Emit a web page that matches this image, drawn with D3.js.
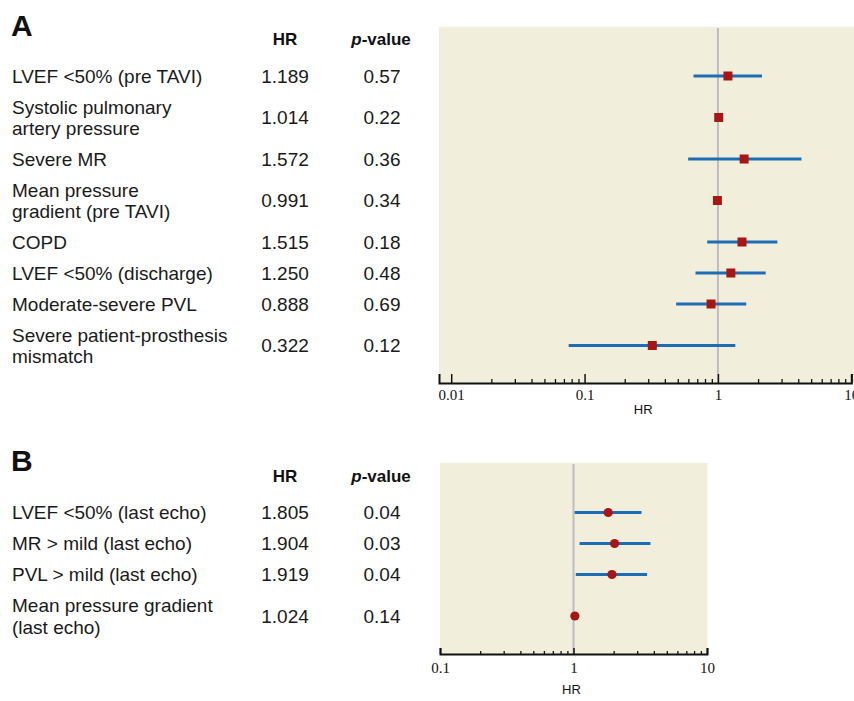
<!DOCTYPE html>
<html><head><meta charset="utf-8">
<script src="https://cdn.jsdelivr.net/npm/d3@7/dist/d3.min.js"></script>
<style>
body{margin:0;background:#fff;}
svg{display:block;}
</style></head>
<body>
<svg id="c" width="854" height="701"></svg>
<script>
// ---------- Panel A data ----------
const labelsA = [
  ["LVEF <50% (pre TAVI)"],
  ["Systolic pulmonary", "artery pressure"],
  ["Severe MR"],
  ["Mean pressure", "gradient (pre TAVI)"],
  ["COPD"],
  ["LVEF <50% (discharge)"],
  ["Moderate-severe PVL"],
  ["Severe patient-prosthesis", "mismatch"]
];
const hrTextA = ["1.189", "1.014", "1.572", "0.991", "1.515", "1.250", "0.888", "0.322"];
const pTextA  = ["0.57", "0.22", "0.36", "0.34", "0.18", "0.48", "0.69", "0.12"];
const hrA = [1.189, 1.014, 1.572, 0.991, 1.515, 1.250, 0.888, 0.322];
const loA = [0.656, 1.005, 0.598, 0.982, 0.831, 0.679, 0.486, 0.076];
const hiA = [2.14, 1.023, 4.23, 1.000, 2.79, 2.28, 1.63, 1.35];
const majorTicksA = [0.01, 0.1, 1, 10];
const tickLabelsA = ["0.01", "0.1", "1", "10"];

// ---------- Panel B data ----------
const labelsB = [
  ["LVEF <50% (last echo)"],
  ["MR > mild (last echo)"],
  ["PVL > mild (last echo)"],
  ["Mean pressure gradient", "(last echo)"]
];
const hrTextB = ["1.805", "1.904", "1.919", "1.024"];
const pTextB  = ["0.04", "0.03", "0.04", "0.14"];
const hrB = [1.82, 2.03, 1.94, 1.024];
const loB = [1.02, 1.11, 1.04, 1.015];
const hiB = [3.23, 3.77, 3.56, 1.033];
const majorTicksB = [0.1, 1, 10];
const tickLabelsB = ["0.1", "1", "10"];

const minorTicks = [0.02,0.03,0.04,0.05,0.06,0.07,0.08,0.09,
                    0.2,0.3,0.4,0.5,0.6,0.7,0.8,0.9,
                    2,3,4,5,6,7,8,9];

// ---------- styles ----------
const SANS = "'Liberation Sans', Arial, sans-serif";
const SERIF = "'Liberation Serif', 'DejaVu Serif', serif";
const BG = "#f2eedc";
const BLUE = "#1c6db3";
const RED = "#a81515";
const GREY = "#bdbdbd";

const svg = d3.select("#c");

function rowCenters(labels, startTop) {
  const h = labels.map(l => 31 + (l.length - 1) * 21);
  const out = [];
  let y = startTop;
  h.forEach(v => { out.push(y + v / 2); y += v; });
  return out;
}

function panel(opt) {
  const g = svg.append("g");
  const x = d3.scaleLog().domain(opt.domain).range(opt.range);
  const ys = rowCenters(opt.labels, opt.rowTop);

  // panel letter
  g.append("text").attr("x", 11).attr("y", opt.letterY)
    .attr("font-family", SANS).attr("font-weight", "bold")
    .attr("font-size", 30).attr("fill", "#111").text(opt.letter);

  // headers
  g.append("text").attr("x", 285).attr("y", opt.headY).attr("text-anchor", "middle")
    .attr("font-family", SANS).attr("font-weight", "bold").attr("font-size", 17)
    .attr("fill", "#111").text("HR");
  const pv = g.append("text").attr("x", 381).attr("y", opt.headY).attr("text-anchor", "middle")
    .attr("font-family", SANS).attr("font-weight", "bold").attr("font-size", 17).attr("fill", "#111");
  pv.append("tspan").attr("font-style", "italic").text("p");
  pv.append("tspan").text("-value");

  // row labels
  opt.labels.forEach((lines, i) => {
    const n = lines.length;
    lines.forEach((t, j) => {
      g.append("text").attr("x", 12)
        .attr("y", ys[i] + (j - (n - 1) / 2) * 21.5)
        .attr("dy", "0.36em")
        .attr("font-family", SANS).attr("font-size", 19).attr("fill", "#1a1a1a")
        .text(t);
    });
    g.append("text").attr("x", 285).attr("y", ys[i]).attr("dy", "0.36em")
      .attr("text-anchor", "middle").attr("font-family", SANS).attr("font-size", 19)
      .attr("fill", "#1a1a1a").text(opt.hrText[i]);
    g.append("text").attr("x", 382).attr("y", ys[i]).attr("dy", "0.36em")
      .attr("text-anchor", "middle").attr("font-family", SANS).attr("font-size", 19)
      .attr("fill", "#1a1a1a").text(opt.pText[i]);
  });

  // background
  g.append("rect").attr("x", opt.range[0]).attr("y", opt.top)
    .attr("width", opt.bgRight - opt.range[0]).attr("height", opt.axisY - opt.top)
    .attr("fill", BG);

  // reference line at 1
  g.append("line").attr("x1", x(1)).attr("x2", x(1))
    .attr("y1", opt.top + 1).attr("y2", opt.axisY)
    .attr("stroke", GREY).attr("stroke-width", 2);

  // minor ticks
  const minor = minorTicks.filter(v => v > opt.domain[0] && v < opt.domain[1]);
  g.append("g").attr("transform", `translate(0,${opt.axisY})`)
    .call(d3.axisBottom(x).tickValues(minor).tickFormat("").tickSizeInner(-opt.minorLen).tickSizeOuter(0))
    .call(a => a.select(".domain").remove())
    .call(a => a.selectAll(".tick line").attr("stroke", "#111").attr("stroke-width", 1.3));

  // major axis
  const ax = g.append("g").attr("transform", `translate(0,${opt.axisY})`)
    .call(d3.axisBottom(x).tickValues(opt.majorTicks)
      .tickFormat((d, i) => opt.tickLabels[i])
      .tickSizeInner(-opt.majorLen).tickSizeOuter(-opt.majorLen).tickPadding(opt.tickPad));
  ax.select(".domain").attr("stroke", "#111").attr("stroke-width", 2);
  ax.selectAll(".tick line").attr("stroke", "#111").attr("stroke-width", 1.5);
  ax.selectAll(".tick text").attr("font-family", SERIF).attr("font-size", 15).attr("fill", "#111");

  g.append("text").attr("x", (opt.range[0] + opt.range[1]) / 2 - 2).attr("y", opt.axisY + opt.hrLabelOff)
    .attr("text-anchor", "middle").attr("font-family", SANS).attr("font-size", 13)
    .attr("fill", "#111").text("HR");

  // CIs
  g.selectAll(".ci").data(opt.hr).enter().append("line")
    .attr("x1", (d, i) => x(opt.lo[i])).attr("x2", (d, i) => x(opt.hi[i]))
    .attr("y1", (d, i) => ys[i]).attr("y2", (d, i) => ys[i])
    .attr("stroke", BLUE).attr("stroke-width", 3.2);

  // markers
  if (opt.shape === "square") {
    g.selectAll(".pt").data(opt.hr).enter().append("rect")
      .attr("x", d => x(d) - 4.5).attr("y", (d, i) => ys[i] - 4.5)
      .attr("width", 9).attr("height", 9).attr("fill", RED);
  } else {
    g.selectAll(".pt").data(opt.hr).enter().append("circle")
      .attr("cx", d => x(d)).attr("cy", (d, i) => ys[i]).attr("r", 4.6).attr("fill", RED);
  }
}

panel({
  letter: "A", letterY: 36, headY: 45,
  labels: labelsA, hrText: hrTextA, pText: pTextA,
  hr: hrA, lo: loA, hi: hiA,
  domain: [0.0081, 10], range: [439, 851.3], bgRight: 854,
  top: 27, axisY: 383, rowTop: 60.5,
  majorTicks: majorTicksA, tickLabels: tickLabelsA,
  majorLen: 9, minorLen: 4, tickPad: 6, hrLabelOff: 31,
  shape: "square"
});

panel({
  letter: "B", letterY: 471, headY: 482,
  labels: labelsB, hrText: hrTextB, pText: pTextB,
  hr: hrB, lo: loB, hi: hiB,
  domain: [0.1, 10], range: [440, 707], bgRight: 707.5,
  top: 463, axisY: 654, rowTop: 497,
  majorTicks: majorTicksB, tickLabels: tickLabelsB,
  majorLen: 6, minorLen: 3, tickPad: 8, hrLabelOff: 40,
  shape: "circle"
});
</script>
</body></html>
